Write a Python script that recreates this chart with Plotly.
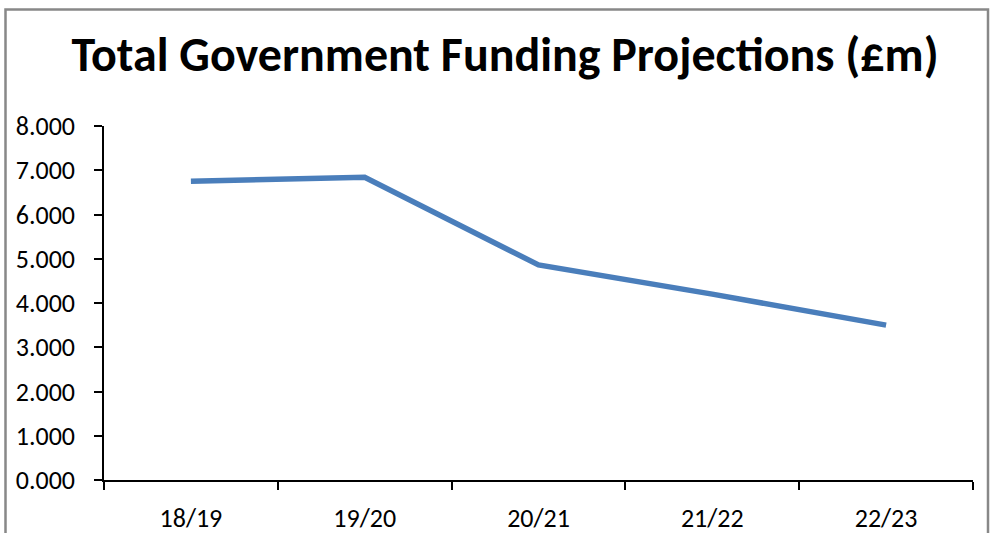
import plotly.graph_objects as go

categories = ["18/19", "19/20", "20/21", "21/22", "22/23"]
funding = [6.75, 6.84, 4.86, 4.20, 3.50]

W, H = 990, 533
L, R, T, B = 104, 17, 126, 53
pw, ph = W - L - R, H - T - B

def px_x(px):
    return (px - L) / pw

def px_y(py):
    return (H - B - py) / ph

fig = go.Figure()
fig.add_trace(go.Scatter(
    x=categories, y=funding, mode="lines",
    line=dict(color="#4A7EBB", width=5.5),
    hoverinfo="x+y",
))

font_family = "Carlito, Calibri, 'Open Sans', 'Liberation Sans', sans-serif"

fig.update_layout(
    width=W, height=H,
    margin=dict(l=L, r=R, t=T, b=B, autoexpand=False),
    paper_bgcolor="white", plot_bgcolor="white",
    showlegend=False,
    font=dict(family=font_family, color="black", size=26),
    title=dict(
        text="<b>Total Government Funding Projections (£m)</b>",
        x=505 / W, xanchor="center",
        y=1 - 54 / H, yanchor="middle",
        font=dict(size=48, family=font_family, color="black"),
    ),
    xaxis=dict(
        type="category", range=[-0.5, 4.5], automargin=False,
        showline=True, linecolor="black", linewidth=1.5,
        ticks="outside", tickson="boundaries", ticklen=8, tickwidth=1.5, tickcolor="black",
        showgrid=False, zeroline=False,
        tickfont=dict(size=26), ticklabelstandoff=14,
    ),
    yaxis=dict(
        range=[0, 8], dtick=1, tick0=0, tickformat=".3f", automargin=False,
        showline=True, linecolor="black", linewidth=1.5,
        ticks="outside", ticklen=8, tickwidth=1.5, tickcolor="black",
        showgrid=False, zeroline=False,
        tickfont=dict(size=26), ticklabelstandoff=14,
    ),
    separators=".,",
    shapes=[dict(
        type="rect", xref="paper", yref="paper",
        x0=px_x(5.5), x1=px_x(988), y0=px_y(600), y1=px_y(9.5),
        line=dict(color="#888888", width=2.5), layer="below",
    )],
)

fig.write_html("out.html")
